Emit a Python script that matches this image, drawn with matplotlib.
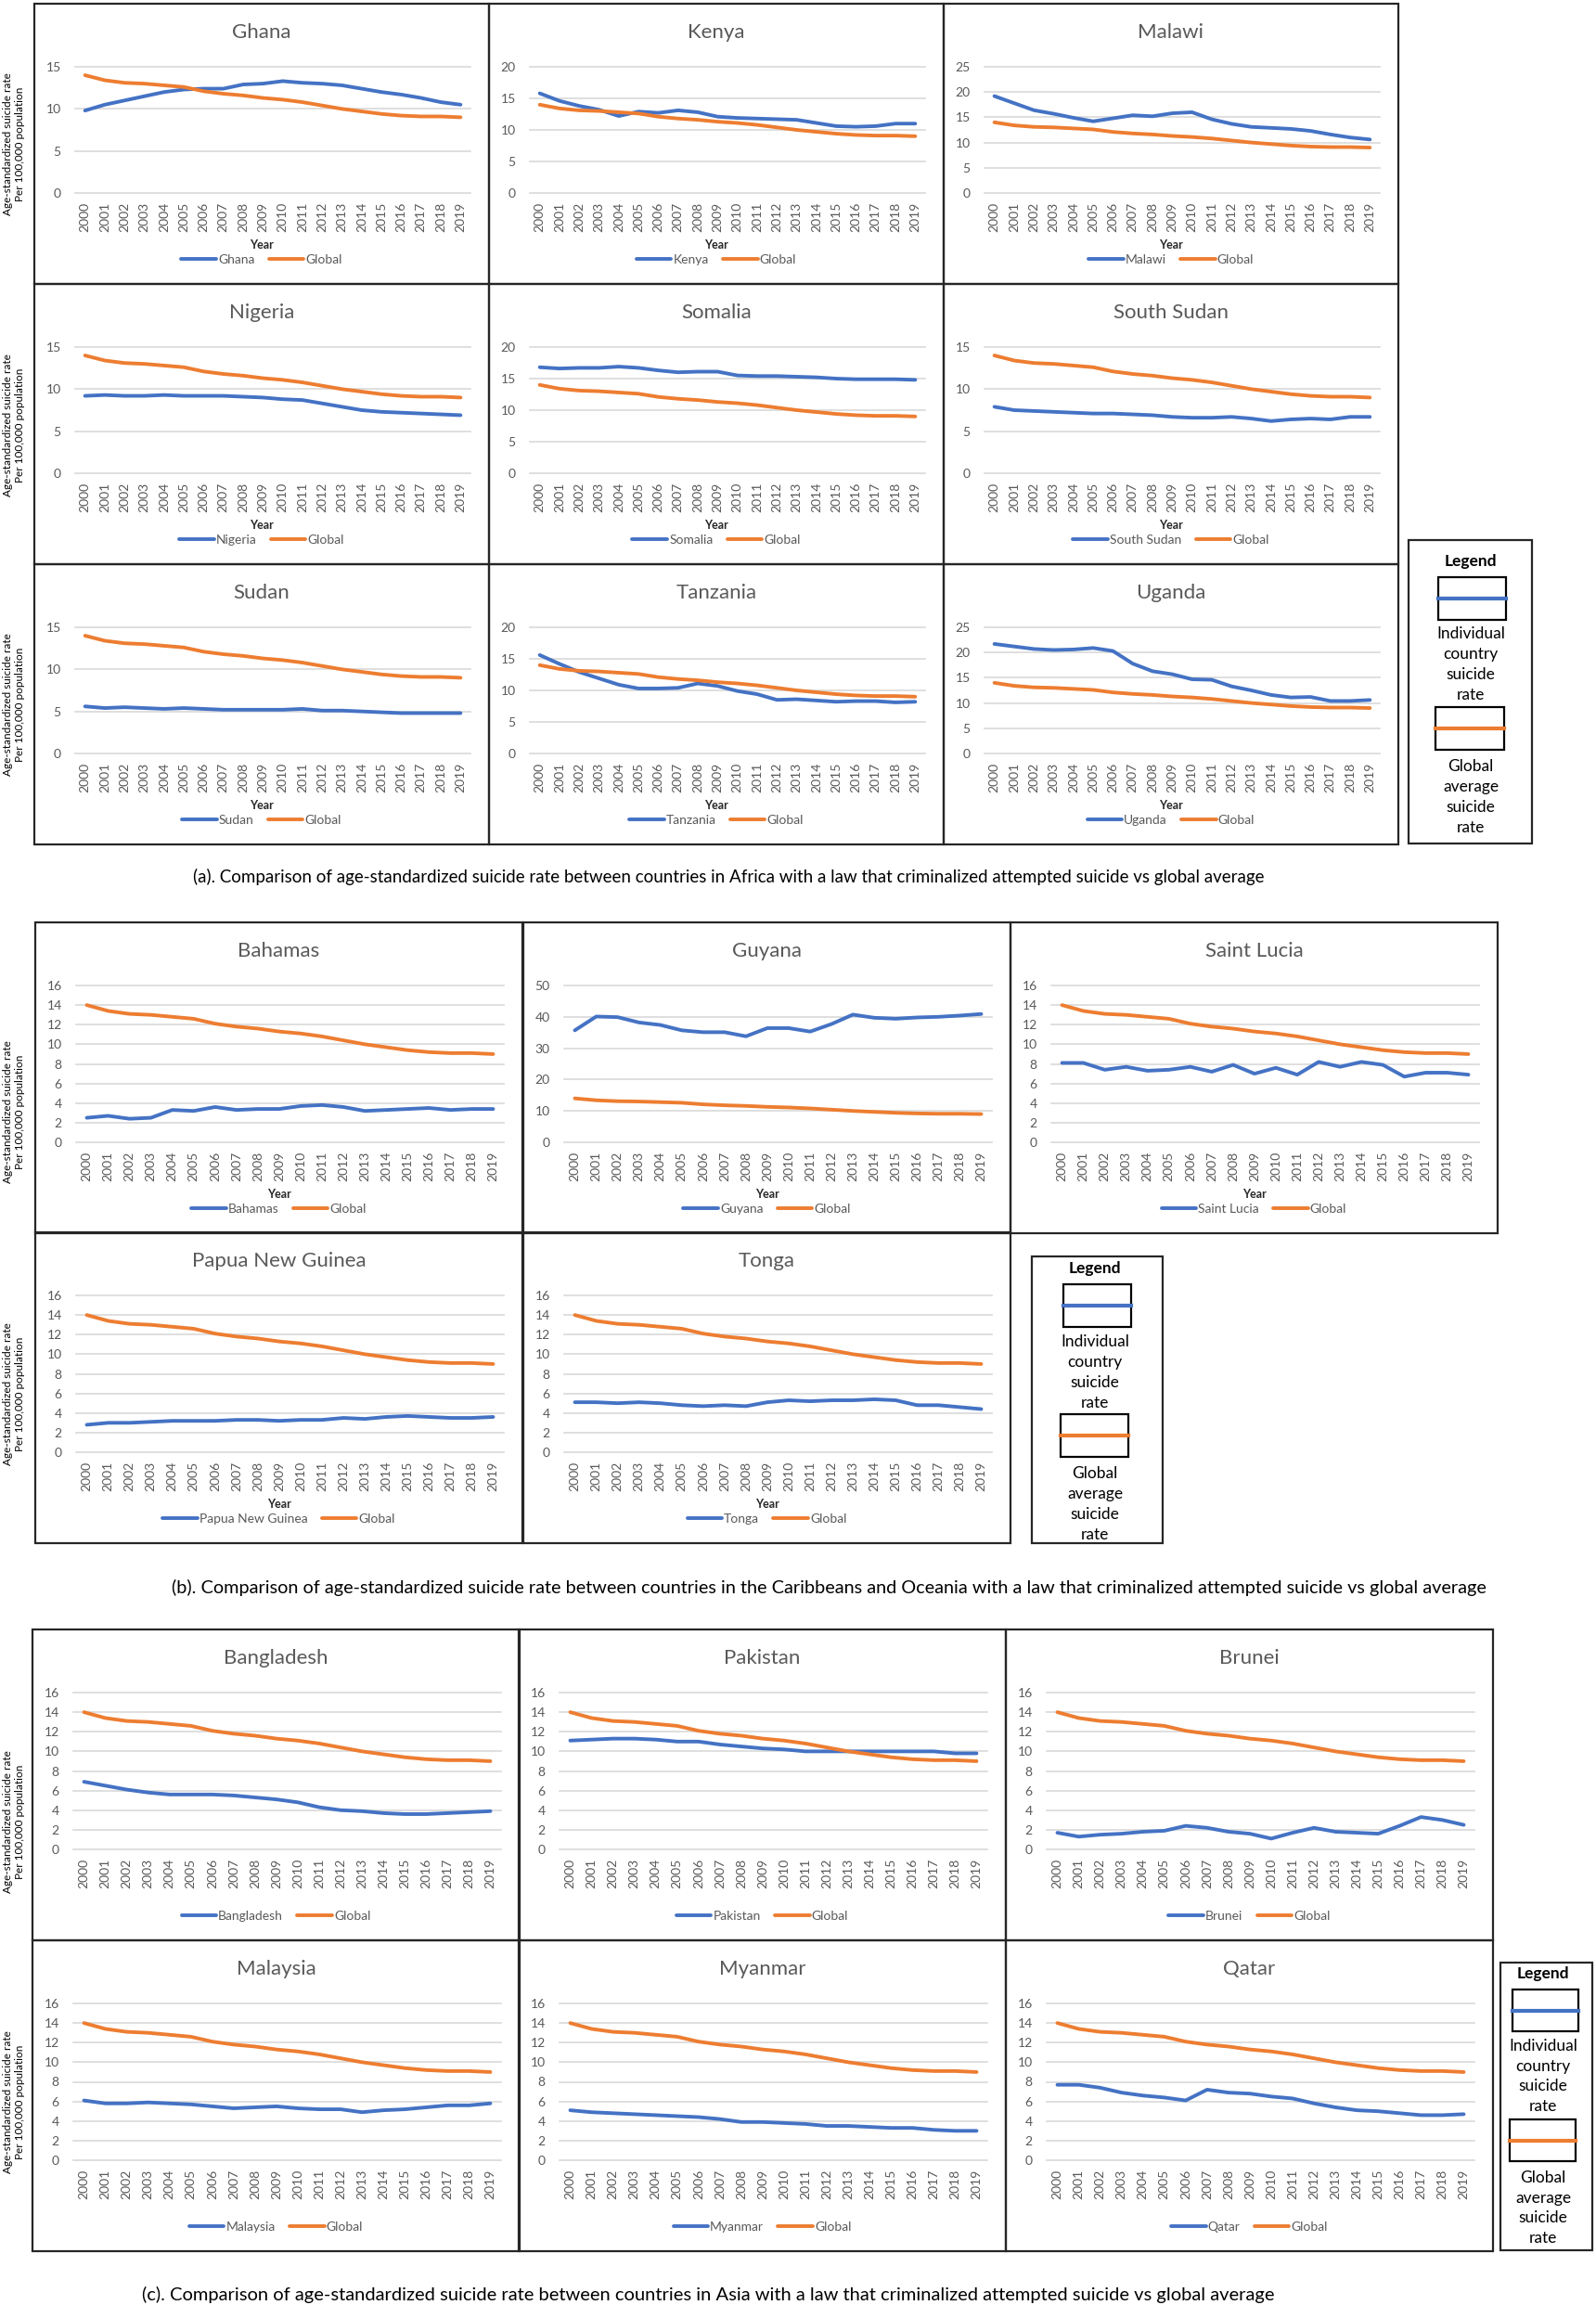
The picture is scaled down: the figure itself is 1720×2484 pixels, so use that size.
import matplotlib.pyplot as plt
from matplotlib.patches import Rectangle

plt.rcParams['font.family'] = ['Lato', 'DejaVu Sans']

years = [str(y) for y in range(2000, 2020)]

global_rate = [14.0, 13.4, 13.1, 13.0, 12.8, 12.6, 12.1, 11.8, 11.6, 11.3,
               11.1, 10.8, 10.4, 10.0, 9.7, 9.4, 9.2, 9.1, 9.1, 9.0]

# (a) Africa
ghana = [9.8, 10.5, 11.0, 11.5, 12.0, 12.3, 12.4, 12.4, 12.9, 13.0,
         13.3, 13.1, 13.0, 12.8, 12.4, 12.0, 11.7, 11.3, 10.8, 10.5]
kenya = [15.8, 14.6, 13.8, 13.2, 12.2, 12.9, 12.7, 13.1, 12.8, 12.1,
         11.9, 11.8, 11.7, 11.6, 11.1, 10.6, 10.5, 10.6, 11.0, 11.0]
malawi = [19.2, 17.8, 16.4, 15.7, 14.9, 14.2, 14.8, 15.4, 15.2, 15.8,
          16.0, 14.6, 13.7, 13.1, 12.9, 12.7, 12.3, 11.6, 11.0, 10.6]
nigeria = [9.2, 9.3, 9.2, 9.2, 9.3, 9.2, 9.2, 9.2, 9.1, 9.0,
           8.8, 8.7, 8.3, 7.9, 7.5, 7.3, 7.2, 7.1, 7.0, 6.9]
somalia = [16.8, 16.6, 16.7, 16.7, 16.9, 16.7, 16.3, 16.0, 16.1, 16.1,
           15.5, 15.4, 15.4, 15.3, 15.2, 15.0, 14.9, 14.9, 14.9, 14.8]
south_sudan = [7.9, 7.5, 7.4, 7.3, 7.2, 7.1, 7.1, 7.0, 6.9, 6.7,
               6.6, 6.6, 6.7, 6.5, 6.2, 6.4, 6.5, 6.4, 6.7, 6.7]
sudan = [5.6, 5.4, 5.5, 5.4, 5.3, 5.4, 5.3, 5.2, 5.2, 5.2,
         5.2, 5.3, 5.1, 5.1, 5.0, 4.9, 4.8, 4.8, 4.8, 4.8]
tanzania = [15.6, 14.2, 12.9, 11.9, 10.9, 10.3, 10.3, 10.4, 11.1, 10.7,
            9.9, 9.4, 8.5, 8.6, 8.4, 8.2, 8.3, 8.3, 8.1, 8.2]
uganda = [21.7, 21.2, 20.7, 20.5, 20.6, 20.9, 20.3, 17.8, 16.3, 15.7,
          14.7, 14.6, 13.3, 12.5, 11.6, 11.1, 11.2, 10.4, 10.4, 10.6]

# (b) Caribbeans and Oceania
bahamas = [2.5, 2.7, 2.4, 2.5, 3.3, 3.2, 3.6, 3.3, 3.4, 3.4,
           3.7, 3.8, 3.6, 3.2, 3.3, 3.4, 3.5, 3.3, 3.4, 3.4]
guyana = [35.7, 40.1, 39.9, 38.2, 37.4, 35.7, 35.1, 35.1, 33.8, 36.4,
          36.4, 35.3, 37.7, 40.7, 39.7, 39.4, 39.8, 40.0, 40.4, 40.9]
saint_lucia = [8.1, 8.1, 7.4, 7.7, 7.3, 7.4, 7.7, 7.2, 7.9, 7.0,
               7.6, 6.9, 8.2, 7.7, 8.2, 7.9, 6.7, 7.1, 7.1, 6.9]
png = [2.8, 3.0, 3.0, 3.1, 3.2, 3.2, 3.2, 3.3, 3.3, 3.2,
       3.3, 3.3, 3.5, 3.4, 3.6, 3.7, 3.6, 3.5, 3.5, 3.6]
tonga = [5.1, 5.1, 5.0, 5.1, 5.0, 4.8, 4.7, 4.8, 4.7, 5.1,
         5.3, 5.2, 5.3, 5.3, 5.4, 5.3, 4.8, 4.8, 4.6, 4.4]

# (c) Asia
bangladesh = [6.9, 6.5, 6.1, 5.8, 5.6, 5.6, 5.6, 5.5, 5.3, 5.1,
              4.8, 4.3, 4.0, 3.9, 3.7, 3.6, 3.6, 3.7, 3.8, 3.9]
pakistan = [11.1, 11.2, 11.3, 11.3, 11.2, 11.0, 11.0, 10.7, 10.5, 10.3,
            10.2, 10.0, 10.0, 10.0, 10.0, 10.0, 10.0, 10.0, 9.8, 9.8]
brunei = [1.7, 1.3, 1.5, 1.6, 1.8, 1.9, 2.4, 2.2, 1.8, 1.6,
          1.1, 1.7, 2.2, 1.8, 1.7, 1.6, 2.4, 3.3, 3.0, 2.5]
malaysia = [6.1, 5.8, 5.8, 5.9, 5.8, 5.7, 5.5, 5.3, 5.4, 5.5,
            5.3, 5.2, 5.2, 4.9, 5.1, 5.2, 5.4, 5.6, 5.6, 5.8]
myanmar = [5.1, 4.9, 4.8, 4.7, 4.6, 4.5, 4.4, 4.2, 3.9, 3.9,
           3.8, 3.7, 3.5, 3.5, 3.4, 3.3, 3.3, 3.1, 3.0, 3.0]
qatar = [7.7, 7.7, 7.4, 6.9, 6.6, 6.4, 6.1, 7.2, 6.9, 6.8,
         6.5, 6.3, 5.8, 5.4, 5.1, 5.0, 4.8, 4.6, 4.6, 4.7]

captions = [
    '(a). Comparison of age-standardized suicide rate between countries in Africa with a law '
    'that criminalized attempted suicide vs global average',
    '(b). Comparison of age-standardized suicide rate between countries in the Caribbeans and '
    'Oceania with a law that criminalized attempted suicide vs global average',
    '(c). Comparison of age-standardized suicide rate between countries in Asia with a law '
    'that criminalized attempted suicide vs global average',
]
legend_words_1 = ['Individual', 'country', 'suicide', 'rate']
legend_words_2 = ['Global', 'average', 'suicide', 'rate']

BLUE = '#4472C4'
ORANGE = '#ED7D31'
GREY = '#595959'
EDGE = '#262626'
YLABEL = 'Age-standardized suicide rate\nPer 100,000 population'

W, H = 1720, 2484
fig = plt.figure(figsize=(W / 100, H / 100), dpi=100)

# background axes in pixel units for boxes and free text
bg = fig.add_axes([0, 0, 1, 1])
bg.set_xlim(0, W)
bg.set_ylim(H, 0)
bg.axis('off')


def panel(x0, y0, w, h, name, values, ymax, step, year_label=True):
    bg.add_patch(Rectangle((x0, y0), w, h, fill=False, ec=EDGE, lw=1.6))
    left, right = x0 + 44, x0 + w - 20
    top, bottom = y0 + 68, y0 + h - 98
    ax = fig.add_axes([left / W, 1 - bottom / H, (right - left) / W, (bottom - top) / H])
    ax.patch.set_alpha(0)
    ax.plot(years, values, color=BLUE, lw=2.8, label=name, solid_capstyle='round')
    ax.plot(years, global_rate, color=ORANGE, lw=2.8, label='Global', solid_capstyle='round')
    ax.set_xlim(-0.5, 19.5)
    ax.set_ylim(0, ymax)
    ax.set_yticks(range(0, ymax + 1, step))
    ax.grid(axis='y', color='#D9D9D9', lw=1.2)
    for gl in ax.get_ygridlines():
        gl.set_clip_on(False)
    ax.set_axisbelow(True)
    for s in ax.spines.values():
        s.set_visible(False)
    ax.tick_params(axis='both', length=0, labelsize=10, labelcolor=GREY)
    ax.tick_params(axis='x', rotation=90, pad=7)
    ax.tick_params(axis='y', pad=11)
    cx = x0 + w / 2
    bg.text(cx, y0 + 31, name, ha='center', va='center', fontsize=16, color=GREY)
    if year_label:
        bg.text(cx, y0 + h - 42, 'Year', ha='center', va='center', fontsize=9,
                fontweight='bold', color=EDGE)
    ax.legend(loc='center', bbox_to_anchor=(cx / W, 1 - (y0 + h - 26) / H),
              bbox_transform=fig.transFigure, ncol=2, frameon=False, fontsize=10,
              handlelength=2.7, handletextpad=0.15, columnspacing=1.1, labelcolor=GREY,
              borderpad=0)


def legend_box(x0, y0, w, h, cx, title_y, box1, box2, text1_y, text2_y, pitch=22):
    bg.add_patch(Rectangle((x0, y0), w, h, fill=False, ec=EDGE, lw=1.6))
    bg.text(cx, title_y, 'Legend', ha='center', va='center', fontsize=12.5,
            fontweight='bold', color='black')
    for (bx, by, bw, bh), col in [(box1, BLUE), (box2, ORANGE)]:
        bg.add_patch(Rectangle((bx, by), bw, bh, fill=False, ec='black', lw=1.6))
        bg.plot([bx, bx + bw], [by + bh / 2, by + bh / 2], color=col, lw=3)
    for k, word in enumerate(legend_words_1):
        bg.text(cx, text1_y + k * pitch, word, ha='center', va='center', fontsize=12.5,
                color='black')
    for k, word in enumerate(legend_words_2):
        bg.text(cx, text2_y + k * pitch, word, ha='center', va='center', fontsize=12.5,
                color='black')


def row_label(yc):
    bg.text(15, yc, YLABEL, rotation=90, ha='center', va='center', fontsize=8.5,
            linespacing=1.3, multialignment='center')


# section (a)
a_cols = [37, 527, 1017]
a_rows = [4, 306, 608]
a_panels = [('Ghana', ghana, 15, 5), ('Kenya', kenya, 20, 5), ('Malawi', malawi, 25, 5),
            ('Nigeria', nigeria, 15, 5), ('Somalia', somalia, 20, 5),
            ('South Sudan', south_sudan, 15, 5),
            ('Sudan', sudan, 15, 5), ('Tanzania', tanzania, 20, 5), ('Uganda', uganda, 25, 5)]
for i, (name, vals, ymax, step) in enumerate(a_panels):
    panel(a_cols[i % 3], a_rows[i // 3], 490, 302, name, vals, ymax, step)
for yc in [155, 458, 759]:
    row_label(yc)
legend_box(1518, 582, 133, 327, 1585, 605, (1550, 622, 73, 46), (1547, 762, 74, 46), 683, 826)
bg.text(208, 945, captions[0], ha='left', va='center', fontsize=13.5)

# section (b)
b_cols = [38, 564, 1089]
b_rows = [994, 1328]
b_panels = [('Bahamas', bahamas, 16, 2), ('Guyana', guyana, 50, 10),
            ('Saint Lucia', saint_lucia, 16, 2),
            ('Papua New Guinea', png, 16, 2), ('Tonga', tonga, 16, 2)]
for i, (name, vals, ymax, step) in enumerate(b_panels):
    panel(b_cols[i % 3], b_rows[i // 3], 525, 335, name, vals, ymax, step)
for yc in [1198, 1502]:
    row_label(yc)
legend_box(1112, 1354, 141, 309, 1180, 1367, (1146, 1384, 73, 46), (1143, 1524, 73, 46), 1446, 1588)
bg.text(185, 1711, captions[1], ha='left', va='center', fontsize=14.3)

# section (c)
c_cols = [35, 559, 1084]
c_rows = [1756, 2091]
c_panels = [('Bangladesh', bangladesh), ('Pakistan', pakistan), ('Brunei', brunei),
            ('Malaysia', malaysia), ('Myanmar', myanmar), ('Qatar', qatar)]
for i, (name, vals) in enumerate(c_panels):
    panel(c_cols[i % 3], c_rows[i // 3], 525, 335, name, vals, 16, 2, year_label=False)
for yc in [1963, 2265]:
    row_label(yc)
legend_box(1617, 2115, 99, 310, 1663, 2127, (1630, 2144, 71, 45), (1627, 2284, 71, 45), 2205, 2347,
           pitch=21.7)
bg.text(153, 2473, captions[2], ha='left', va='center', fontsize=14.5)

fig.savefig('out.png', dpi=100)
